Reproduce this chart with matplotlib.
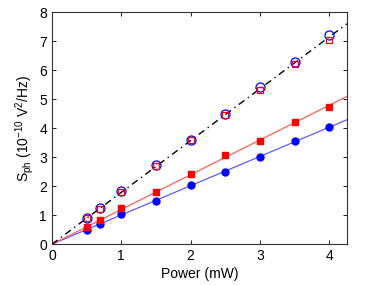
import numpy as np
import matplotlib
matplotlib.use("Agg")
import matplotlib.pyplot as plt

plt.rcParams['font.family'] = ['Liberation Sans', 'DejaVu Sans']
plt.rcParams['mathtext.fontset'] = 'custom'
plt.rcParams['mathtext.rm'] = 'Liberation Sans'
plt.rcParams['mathtext.it'] = 'Liberation Sans'

power = [0.5, 0.7, 1.0, 1.5, 2.0, 2.5, 3.0, 3.5, 4.0]
blue_filled = [0.5, 0.7, 1.03, 1.5, 2.05, 2.5, 3.0, 3.55, 4.05]
red_filled = [0.6, 0.85, 1.25, 1.8, 2.42, 3.08, 3.55, 4.2, 4.75]
blue_open = [0.9, 1.25, 1.82, 2.72, 3.6, 4.5, 5.42, 6.3, 7.2]
red_open = [0.9, 1.23, 1.8, 2.7, 3.6, 4.45, 5.33, 6.2, 7.05]

x = np.array(power)

# fit lines through the origin
def slope(xs, ys):
    xs = np.array(xs)
    ys = np.array(ys)
    return (xs * ys).sum() / (xs * xs).sum()

fig = plt.figure(figsize=(3.79, 2.85), dpi=100)
ax = fig.add_axes([0.137, 0.143, 0.778, 0.814])

xf = np.array([0, 4.25])
ax.plot(xf, slope(x, blue_filled) * xf, color='#5c5cff', lw=0.9)
ax.plot(xf, slope(x, red_filled) * xf, color='#ff5c5c', lw=0.9)
k = slope(power + power, blue_open + red_open)
ax.plot(xf, k * xf, color='black', lw=1.0, dashes=(5, 3, 1, 3))

ax.plot(x, blue_filled, 'o', color='blue', ms=5)
ax.plot(x, red_filled, 's', color='red', ms=4.5)
ax.plot(x, blue_open, 'o', mfc='none', mec='blue', ms=6.5, mew=0.9)
ax.plot(x, red_open, 's', mfc='none', mec='red', ms=5, mew=0.9)

ax.set_xlim(0, 4.25)
ax.set_ylim(0, 8)
ax.set_xticks([0, 1, 2, 3, 4])
ax.set_yticks(range(9))
ax.tick_params(direction='in', top=True, right=True, labelsize=10, length=3, width=0.6)
for s in ax.spines.values():
    s.set_linewidth(0.8)
    s.set_color('#333333')
ax.set_xlabel('Power (mW)', fontsize=10, labelpad=3)
ax.set_ylabel(r'S$_{\rm ph}$ (10$^{-10}$ V$^2$/Hz)', fontsize=10, labelpad=2)

fig.savefig('out.png', dpi=100)
